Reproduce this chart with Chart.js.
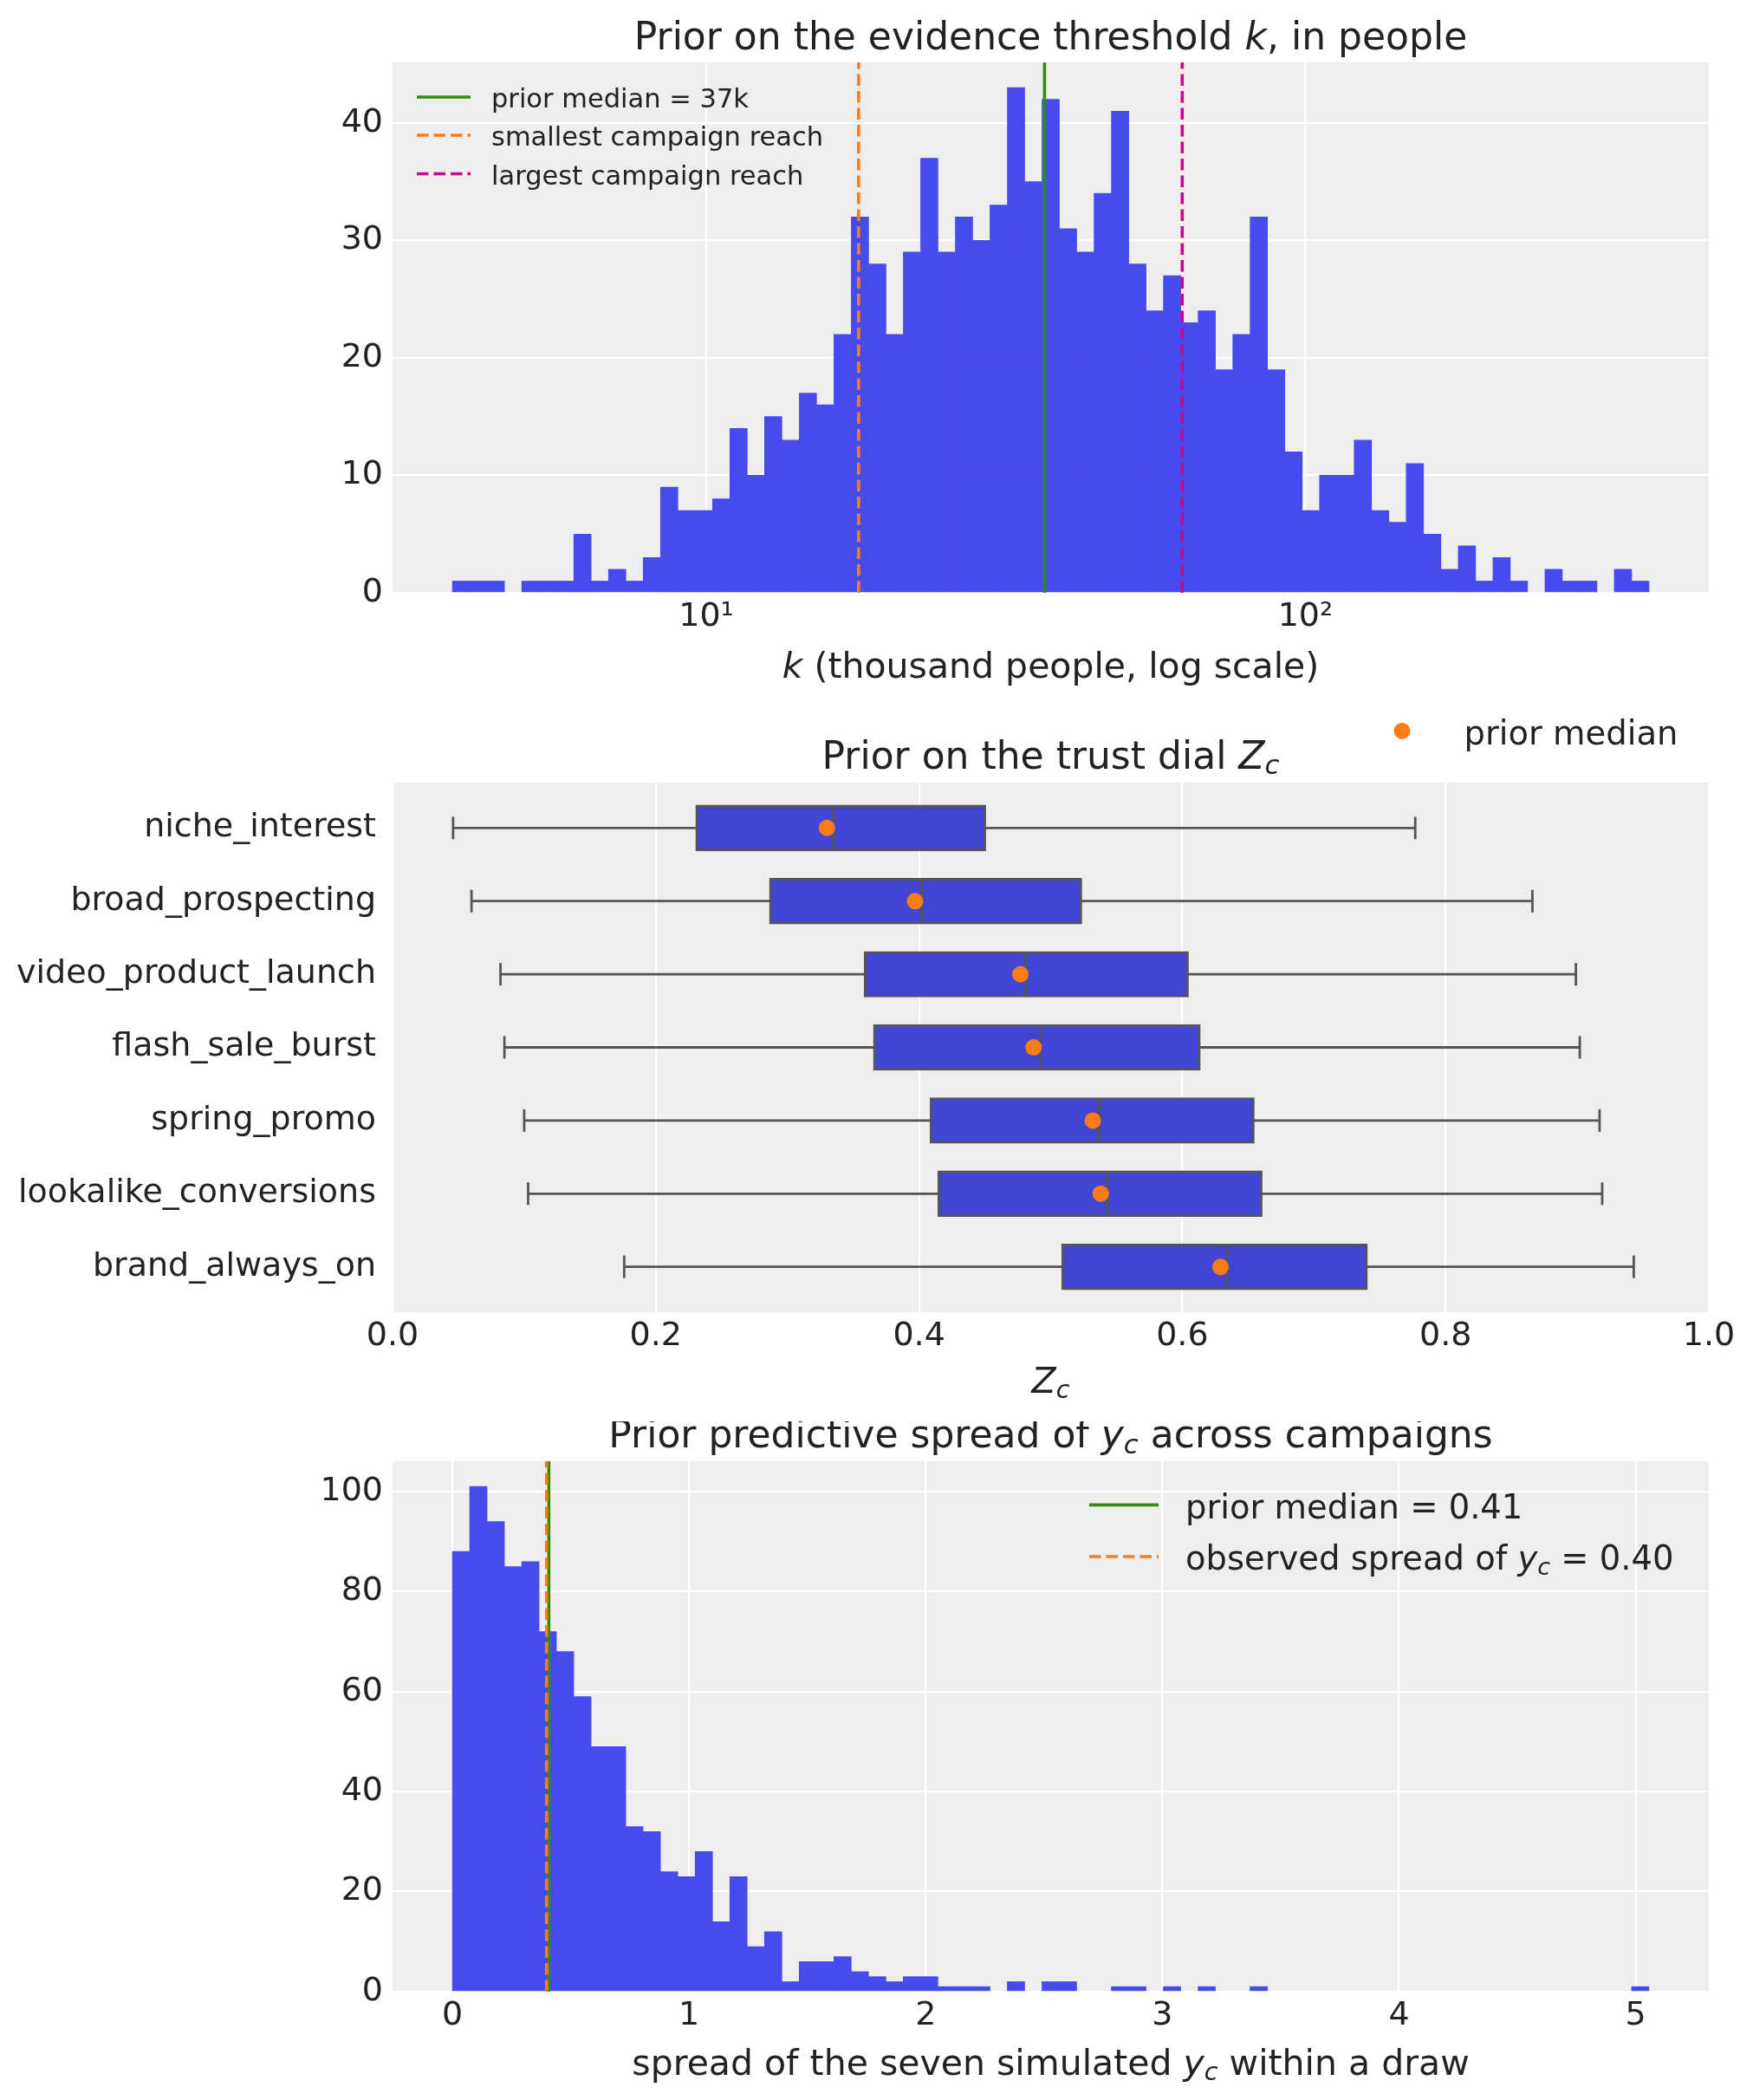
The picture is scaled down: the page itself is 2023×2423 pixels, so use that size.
<!DOCTYPE html>
<html lang="en">
<head>
<meta charset="utf-8">
<title>Prior checks</title>
<script src="https://cdn.jsdelivr.net/npm/chart.js@4.4.1/dist/chart.umd.min.js"></script>
<style>
  html, body { margin: 0; padding: 0; background: #ffffff; }
  #page { position: relative; width: 2023px; height: 2423px; overflow: hidden; }
  .panel { position: absolute; left: 0; width: 2023px; }
</style>
</head>
<body>
<div id="page">
  <div class="panel" style="top:0;height:800px"><canvas id="kChart"></canvas></div>
  <div class="panel" style="top:800px;height:840px"><canvas id="zChart"></canvas></div>
  <div class="panel" style="top:1640px;height:783px"><canvas id="spreadChart"></canvas></div>
</div>
<script>
// ---------- data ----------

// prior on k (thousand people): 69 log-spaced bins
const kBinLow = 3.77;
const kBinHigh = 374.6;
const kCounts = [1, 1, 1, 0, 1, 1, 1, 5, 1, 2, 1, 3,
  9, 7, 7, 8, 14, 10, 15, 13, 17, 16,
  22, 32, 28, 22, 29, 37, 29, 32, 30, 33,
  43, 35, 42, 31, 29, 34, 41, 28, 24, 27,
  23, 24, 19, 22, 32, 19, 12, 7, 10, 10,
  13, 7, 6, 11, 5, 2, 4, 1, 3, 1, 0, 2, 1, 1, 0, 2, 1];
const kMedian = 36.7;
const smallestReach = 17.96;
const largestReach = 62.3;
const kTicks = [10, 100];
const kCountTicks = [0, 10, 20, 30, 40];

// prior on the trust dial Z_c, one box per campaign
const campaigns = ['niche_interest', 'broad_prospecting', 'video_product_launch',
  'flash_sale_burst', 'spring_promo', 'lookalike_conversions', 'brand_always_on'];
const zLow = [0.046, 0.060, 0.082, 0.085, 0.100, 0.103, 0.176];
const zQ1 = [0.231, 0.287, 0.359, 0.366, 0.409, 0.415, 0.509];
const zMid = [0.335, 0.402, 0.481, 0.492, 0.537, 0.543, 0.634];
const zQ3 = [0.450, 0.523, 0.604, 0.613, 0.654, 0.660, 0.740];
const zHigh = [0.777, 0.866, 0.899, 0.902, 0.917, 0.919, 0.943];
const zPriorMedian = [0.330, 0.397, 0.477, 0.487, 0.532, 0.538, 0.629];
const zTicks = [0, 0.2, 0.4, 0.6, 0.8, 1.0];

// prior predictive spread of y_c: 69 equal bins from 0
const spreadBinMax = 5.056;
const spreadCounts = [88, 101, 94, 85, 86, 72, 68, 59, 49, 49,
  33, 32, 24, 23, 28, 14, 23, 9, 12, 2,
  6, 6, 7, 4, 3, 2, 3, 3, 1, 1,
  1, 0, 2, 0, 2, 2, 0, 0, 1, 1,
  0, 1, 0, 1, 0, 0, 1, 0, 0, 0,
  0, 0, 0, 0, 0, 0, 0, 0, 0, 0,
  0, 0, 0, 0, 0, 0, 0, 0, 1];
const spreadMedian = 0.4075;
const observedSpread = 0.398;
const spreadTicks = [0, 1, 2, 3, 4, 5];
const spreadCountTicks = [0, 20, 40, 60, 80, 100];

// ---------- look ----------
const FAMILY = '"DejaVu Sans", "Liberation Sans", sans-serif';
const INK = '#222222';
const PANEL_BG = '#eeeeee';
const BLUE = '#474bec';
const BOX_BLUE = '#4245d4';
const BOX_EDGE = '#555555';
const ORANGE = '#fa7c17';
const GREEN = '#328c06';
const MAGENTA = '#c10c90';
const LW = 3.6;
const DASH = [13.5, 6];
const TITLE_SIZE = 44;
const LABEL_SIZE = 41;
const LEGEND_SIZE = 38.5;
const SMALL_LEGEND = 30.5;

const AX_LEFT = 453;
const AX_RIGHT = 1972;
const AXIS_H = 60;

Chart.defaults.font.family = FAMILY;
Chart.defaults.font.size = 38;
Chart.defaults.color = INK;

/**
 * Draws text made of roman, italic and italic-subscript runs (matplotlib mathtext look)
 */
function drawMath(ctx, parts, x, y, size, align) {
  const fontFor = k => (k === 'r' ? '' : 'italic ') + (k === 's' ? size * 0.7 : size) + 'px ' + FAMILY;
  let total = 0;
  const widths = parts.map(([t, k]) => {
    ctx.font = fontFor(k);
    const w = ctx.measureText(t).width;
    total += w;
    return w;
  });
  let cx = align === 'center' ? x - total / 2 : (align === 'right' ? x - total : x);
  ctx.textAlign = 'left';
  ctx.textBaseline = 'alphabetic';
  ctx.fillStyle = INK;
  parts.forEach(([t, k], i) => {
    ctx.font = fontFor(k);
    ctx.fillText(t, cx, k === 's' ? y + size * 0.15 : y);
    cx += widths[i];
  });
}

// panel background, title, axis label and the in-axes legend
function annotations(spec) {
  return {
    id: 'annotations',
    beforeDraw(chart) {
      const a = chart.chartArea;
      const ctx = chart.ctx;
      ctx.save();
      ctx.fillStyle = PANEL_BG;
      ctx.fillRect(a.left, a.top, a.right - a.left, a.bottom - a.top);
      ctx.restore();
    },
    afterDraw(chart) {
      const a = chart.chartArea;
      const ctx = chart.ctx;
      const mid = (a.left + a.right) / 2;
      ctx.save();
      drawMath(ctx, spec.title, mid, spec.titleY, TITLE_SIZE, 'center');
      drawMath(ctx, spec.xlabel, mid, spec.xlabelY, LABEL_SIZE, 'center');
      spec.legend.forEach(item => {
        ctx.save();
        if (item.kind === 'dot') {
          ctx.fillStyle = item.color;
          ctx.beginPath();
          ctx.arc(item.x0, item.y, 9.5, 0, Math.PI * 2);
          ctx.fill();
        } else {
          ctx.strokeStyle = item.color;
          ctx.lineWidth = LW;
          ctx.setLineDash(item.dash || []);
          ctx.beginPath();
          ctx.moveTo(item.x0, item.y);
          ctx.lineTo(item.x1, item.y);
          ctx.stroke();
        }
        ctx.restore();
        drawMath(ctx, item.label, item.textX, item.y + item.size * 0.4, item.size, 'left');
      });
      ctx.restore();
    }
  };
}

function fixedTicks(values) {
  return axis => { axis.ticks = values.map(value => ({ value })); };
}

const gridStyle = { color: '#ffffff', lineWidth: 2.2, drawTicks: false, offset: false };

function vline(value, top, color, dash) {
  return {
    type: 'line',
    data: [{ x: value, y: 0 }, { x: value, y: top }],
    borderColor: color,
    borderWidth: LW,
    borderDash: dash || [],
    pointRadius: 0,
    order: 0
  };
}

// histogram bar; empty bins are left out
function histBars(xs, counts) {
  return {
    type: 'bar',
    data: xs.map((x, i) => ({ x, y: counts[i] || null })),
    backgroundColor: BLUE,
    borderWidth: 0,
    barPercentage: 1,
    categoryPercentage: 1,
    order: 1
  };
}

// ---------- panel 1: evidence threshold k ----------
const kAxisMin = 2.995;
const kAxisMax = 471.4;
const kCountMax = 45.15;
const kEdges = Array.from({ length: kCounts.length + 1 },
  (_, i) => kBinLow * Math.pow(kBinHigh / kBinLow, i / kCounts.length));
const kCenters = kCounts.map((_, i) => Math.sqrt(kEdges[i] * kEdges[i + 1]));
const SUP = { 1: '\u00b9', 2: '\u00b2', 3: '\u00b3' };

new Chart(document.getElementById('kChart'), {
  type: 'bar',
  data: {
    datasets: [
      vline(kMedian, kCountMax, GREEN),
      vline(smallestReach, kCountMax, ORANGE, DASH),
      vline(largestReach, kCountMax, MAGENTA, DASH),
      histBars(kCenters, kCounts)
    ]
  },
  options: {
    responsive: true,
    maintainAspectRatio: false,
    animation: false,
    devicePixelRatio: 1,
    layout: { padding: { left: 0, right: 2023 - AX_RIGHT, top: 72, bottom: 800 - 684 - AXIS_H } },
    plugins: { legend: { display: false }, tooltip: { enabled: false } },
    scales: {
      x: {
        type: 'logarithmic',
        min: kAxisMin,
        max: kAxisMax,
        offset: false,
        grid: gridStyle,
        border: { display: false },
        afterBuildTicks: fixedTicks(kTicks),
        afterFit: s => { s.height = AXIS_H; },
        ticks: { padding: 5, maxRotation: 0, callback: v => '10' + SUP[Math.round(Math.log10(v))] }
      },
      y: {
        type: 'linear',
        min: 0,
        max: kCountMax,
        grid: gridStyle,
        border: { display: false },
        afterBuildTicks: fixedTicks(kCountTicks),
        afterFit: s => { s.width = AX_LEFT; },
        ticks: { padding: 11 }
      }
    }
  },
  plugins: [annotations({
    title: [['Prior on the evidence threshold ', 'r'], ['k', 'i'], [', in people', 'r']],
    titleY: 57,
    xlabel: [['k', 'i'], [' (thousand people, log scale)', 'r']],
    xlabelY: 782,
    legend: [
      { kind: 'line', color: GREEN, x0: 481, x1: 543, y: 112, textX: 567, size: SMALL_LEGEND, label: [['prior median = 37k', 'r']] },
      { kind: 'line', color: ORANGE, dash: DASH, x0: 481, x1: 543, y: 156, textX: 567, size: SMALL_LEGEND, label: [['smallest campaign reach', 'r']] },
      { kind: 'line', color: MAGENTA, dash: DASH, x0: 481, x1: 543, y: 200.5, textX: 567, size: SMALL_LEGEND, label: [['largest campaign reach', 'r']] }
    ]
  })]
});

// ---------- panel 2: trust dial Z_c ----------
const rowMin = -0.62;
const rowMax = 6.62;
const BOX_LW = 2.8;

new Chart(document.getElementById('zChart'), {
  type: 'bar',
  data: {
    datasets: [
      {
        // whiskers, drawn under the boxes
        type: 'bar',
        data: campaigns.map((_, i) => ({ x: [zLow[i], zHigh[i]], y: i })),
        backgroundColor: BOX_EDGE,
        borderWidth: 0,
        barThickness: BOX_LW,
        grouped: false,
        inflateAmount: 0,
        order: 4
      },
      {
        type: 'bar',
        data: campaigns.map((_, i) => ({ x: [zQ1[i], zQ3[i]], y: i })),
        backgroundColor: BOX_BLUE,
        borderColor: BOX_EDGE,
        borderWidth: BOX_LW,
        borderSkipped: false,
        barPercentage: 0.6,
        categoryPercentage: 1,
        grouped: false,
        inflateAmount: 1.4,
        order: 3
      },
      {
        // box medians
        type: 'line',
        data: campaigns.map((_, i) => ({ x: zMid[i], y: i })),
        showLine: false,
        pointStyle: 'line',
        pointRotation: 90,
        pointRadius: 26,
        pointBorderWidth: BOX_LW,
        pointBorderColor: BOX_EDGE,
        order: 2
      },
      {
        // whisker caps
        type: 'line',
        data: campaigns.flatMap((_, i) => [{ x: zLow[i], y: i }, { x: zHigh[i], y: i }]),
        showLine: false,
        pointStyle: 'line',
        pointRotation: 90,
        pointRadius: 13,
        pointBorderWidth: BOX_LW,
        pointBorderColor: BOX_EDGE,
        order: 2
      },
      {
        type: 'line',
        data: campaigns.map((_, i) => ({ x: zPriorMedian[i], y: i })),
        showLine: false,
        pointStyle: 'circle',
        pointRadius: 9.5,
        pointBorderWidth: 0,
        pointBackgroundColor: ORANGE,
        order: 0
      }
    ]
  },
  options: {
    indexAxis: 'y',
    responsive: true,
    maintainAspectRatio: false,
    animation: false,
    devicePixelRatio: 1,
    layout: { padding: { left: 0, right: 2023 - AX_RIGHT, top: 103, bottom: 840 - 714 - AXIS_H } },
    plugins: { legend: { display: false }, tooltip: { enabled: false } },
    scales: {
      x: {
        type: 'linear',
        min: 0,
        max: 1,
        offset: false,
        grid: gridStyle,
        border: { display: false },
        afterBuildTicks: fixedTicks(zTicks),
        afterFit: s => { s.height = AXIS_H; },
        ticks: { padding: 5, maxRotation: 0, callback: v => v.toFixed(1) }
      },
      y: {
        type: 'linear',
        min: rowMin,
        max: rowMax,
        reverse: true,
        offset: false,
        grid: { display: false },
        border: { display: false },
        afterBuildTicks: fixedTicks(campaigns.map((_, i) => i)),
        afterFit: s => { s.width = AX_LEFT; },
        ticks: { padding: 11, callback: v => campaigns[v] }
      }
    }
  },
  plugins: [annotations({
    title: [['Prior on the trust dial ', 'r'], ['Z', 'i'], ['c', 's']],
    titleY: 86.7,
    xlabel: [['Z', 'i'], ['c', 's']],
    xlabelY: 806.6,
    legend: [
      { kind: 'dot', color: ORANGE, x0: 1618, y: 43.4, textX: 1689.5, size: LEGEND_SIZE, label: [['prior median', 'r']] }
    ]
  })]
});

// ---------- panel 3: spread of simulated y_c ----------
const spreadAxisMin = -0.2528;
const spreadAxisMax = 5.309;
const spreadCountMax = 106.05;
const spreadBinW = spreadBinMax / spreadCounts.length;
const spreadCenters = spreadCounts.map((_, i) => (i + 0.5) * spreadBinW);

new Chart(document.getElementById('spreadChart'), {
  type: 'bar',
  data: {
    datasets: [
      vline(observedSpread, spreadCountMax, ORANGE, DASH),
      vline(spreadMedian, spreadCountMax, GREEN),
      histBars(spreadCenters, spreadCounts)
    ]
  },
  options: {
    responsive: true,
    maintainAspectRatio: false,
    animation: false,
    devicePixelRatio: 1,
    layout: { padding: { left: 0, right: 2023 - AX_RIGHT, top: 46, bottom: 783 - 658 - AXIS_H } },
    plugins: { legend: { display: false }, tooltip: { enabled: false } },
    scales: {
      x: {
        type: 'linear',
        min: spreadAxisMin,
        max: spreadAxisMax,
        offset: false,
        grid: gridStyle,
        border: { display: false },
        afterBuildTicks: fixedTicks(spreadTicks),
        afterFit: s => { s.height = AXIS_H; },
        ticks: { padding: 5, maxRotation: 0 }
      },
      y: {
        type: 'linear',
        min: 0,
        max: spreadCountMax,
        grid: gridStyle,
        border: { display: false },
        afterBuildTicks: fixedTicks(spreadCountTicks),
        afterFit: s => { s.width = AX_LEFT; },
        ticks: { padding: 11 }
      }
    }
  },
  plugins: [annotations({
    title: [['Prior predictive spread of ', 'r'], ['y', 'i'], ['c', 's'], [' across campaigns', 'r']],
    titleY: 30,
    xlabel: [['spread of the seven simulated ', 'r'], ['y', 'i'], ['c', 's'], [' within a draw', 'r']],
    xlabelY: 754,
    legend: [
      { kind: 'line', color: GREEN, x0: 1257, x1: 1337, y: 96.4, textX: 1368, size: LEGEND_SIZE, label: [['prior median = 0.41', 'r']] },
      { kind: 'line', color: ORANGE, dash: DASH, x0: 1257, x1: 1337, y: 156, textX: 1368, size: LEGEND_SIZE, label: [['observed spread of ', 'r'], ['y', 'i'], ['c', 's'], [' = 0.40', 'r']] }
    ]
  })]
});
</script>
</body>
</html>
